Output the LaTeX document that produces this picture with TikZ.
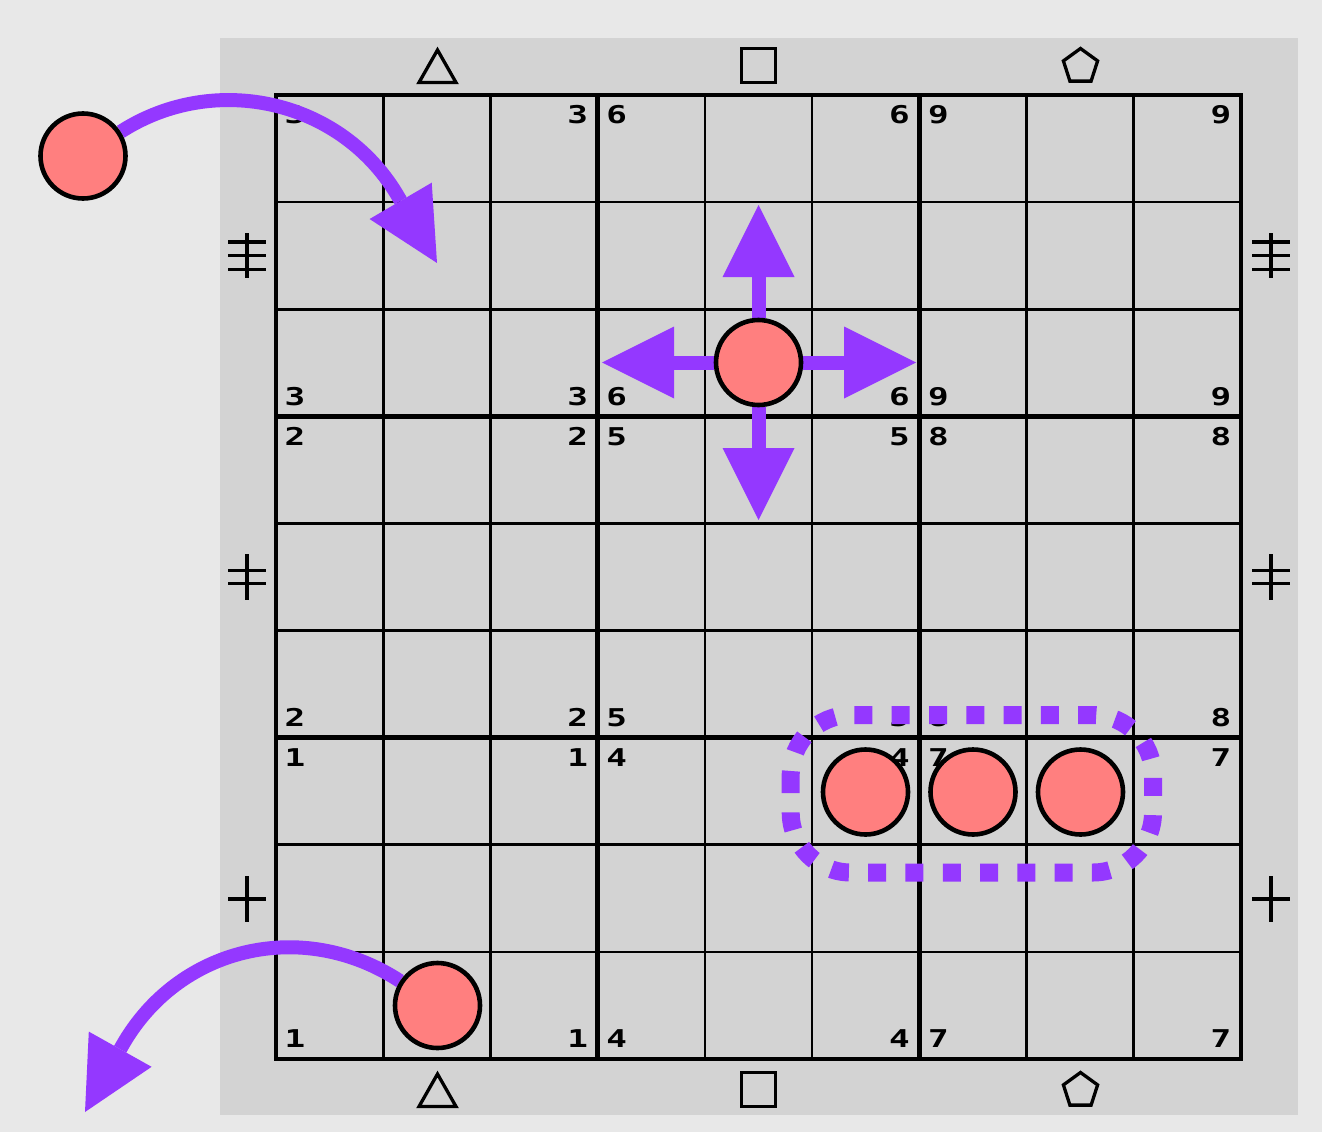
\documentclass[tikz,border=0pt]{standalone}
\usepackage{fontspec}
\newfontfamily\digitfont{DejaVu Sans Mono}
\usetikzlibrary{arrows.meta}
\definecolor{bgout}{HTML}{E8E8E8}
\definecolor{panel}{HTML}{D3D3D3}
\definecolor{vio}{RGB}{148,56,255}
\definecolor{salmon}{HTML}{FF7F7F}
\pgfdeclarelayer{fg}
\pgfsetlayers{main,fg}
\tikzset{
  token/.style={circle, draw=black, line width=4.6pt, fill=salmon, minimum size=85pt, inner sep=0pt},
  movearrow/.style={draw=vio, line width=14pt, -{Triangle[length=72pt,width=72pt,line width=0pt]}},
  thinline/.style={line width=2.6pt},
  thickline/.style={line width=4.8pt},
  lbl/.style={inner sep=0pt, font=\fontsize{24.5}{24.5}\selectfont\digitfont\bfseries},
  glyph/.style={line width=3.4pt},
  shapeglyph/.style={line width=3.3pt, line join=miter},
  groupring/.style={draw=vio, line width=18pt, dash pattern=on 18pt off 19.3pt, rounded corners=60pt},
}
\begin{document}
\begin{tikzpicture}[x=1pt,y=-1pt]
\useasboundingbox (0,0) rectangle (1322,1132);
\fill[bgout] (0,0) rectangle (1322,1132);
\fill[panel] (220,38) rectangle (1298,1115);
% grid thin lines
\foreach \i in {1,2,4,5,7,8} {
  \draw[thinline] ({276+\i*107.222},95) -- ({276+\i*107.222},1059);
  \draw[thinline] (276,{95+\i*107.111}) -- (1241,{95+\i*107.111});
}
% grid thick lines
\foreach \i in {3,6} {
  \draw[thickline] ({276+\i*107.222},95) -- ({276+\i*107.222},1059);
  \draw[thickline] (276,{95+\i*107.111}) -- (1241,{95+\i*107.111});
}
\draw[thickline] (276,95) rectangle (1241,1059);
% corner labels
\foreach \r in {0,1,2} {
  \foreach \c in {0,1,2} {
    \pgfmathtruncatemacro\n{3*\c+3-\r}
    \pgfmathsetmacro\L{276+\c*321.667}
    \pgfmathsetmacro\R{\L+321.667}
    \pgfmathsetmacro\T{95+\r*321.333}
    \pgfmathsetmacro\B{\T+321.333}
    \node[lbl] (l-\r-\c-tl) at ({\L+19},{\T+20}) {\scalebox{1.4}[1]{\n}};
    \node[lbl] (l-\r-\c-tr) at ({\R-20},{\T+20}) {\scalebox{1.4}[1]{\n}};
    \node[lbl] (l-\r-\c-bl) at ({\L+19},{\B-20}) {\scalebox{1.4}[1]{\n}};
    \node[lbl] (l-\r-\c-br) at ({\R-20},{\B-20}) {\scalebox{1.4}[1]{\n}};
  }
}
% side tally glyphs
\foreach \x in {247,1271} {
  \draw[glyph] ({\x-19},242) -- ({\x+19},242);
  \draw[glyph] ({\x-19},255.7) -- ({\x+19},255.7);
  \draw[glyph] ({\x-19},269.3) -- ({\x+19},269.3);
  \draw[glyph] (\x,233) -- (\x,278);
  \draw[glyph] ({\x-19},570.7) -- ({\x+19},570.7);
  \draw[glyph] ({\x-19},583.3) -- ({\x+19},583.3);
  \draw[glyph] (\x,554) -- (\x,600);
  \draw[glyph] ({\x-19},899) -- ({\x+19},899);
  \draw[glyph] (\x,876) -- (\x,922);
}
% top and bottom shape glyphs
\foreach \yy in {0,1024} {
  \draw[shapeglyph] (437.5,{50+\yy}) -- (419,{82.5+\yy}) -- (456,{82.5+\yy}) -- cycle;
  \draw[shapeglyph] (741.5,{48.5+\yy}) rectangle (775.5,{82.5+\yy});
  \draw[shapeglyph] (1080.5,{48.5+\yy}) -- (1063.4,{60.9+\yy}) -- (1069.9,{81.1+\yy})
     -- (1091.1,{81.1+\yy}) -- (1097.6,{60.9+\yy}) -- cycle;
}
% tokens
\begin{pgfonlayer}{fg}
  \node[token] (c1) at (83,156) {};
  \node[token] (c2) at (758.5,362.5) {};
  \node[token] (c3) at (865.5,792) {};
  \node[token] (c4) at (973,792) {};
  \node[token] (c5) at (1080.5,792) {};
  \node[token] (c6) at (437.5,1005.5) {};
\end{pgfonlayer}
% group ring
\draw[groupring] (790.7,715) rectangle (1153,872.5);
% straight arrows
\coordinate (uT) at (758.5,205);
\coordinate (lT) at (602,362.5);
\coordinate (rT) at (916,362.5);
\coordinate (dT) at (758.5,520);
\draw[movearrow] (c2) -- (uT);
\draw[movearrow] (c2) -- (lT);
\draw[movearrow] (c2) -- (rT);
\draw[movearrow] (c2) -- (dT);
% curved arrows
\coordinate (t1) at (437,263);
\draw[movearrow] (c1) .. controls (215,71) and (343,100) .. (399,198) -- (t1);
\coordinate (t2) at (85,1112);
\draw[movearrow] (c6) .. controls (302,917) and (178,947) .. (122,1046) -- (t2);
\end{tikzpicture}
\end{document}
